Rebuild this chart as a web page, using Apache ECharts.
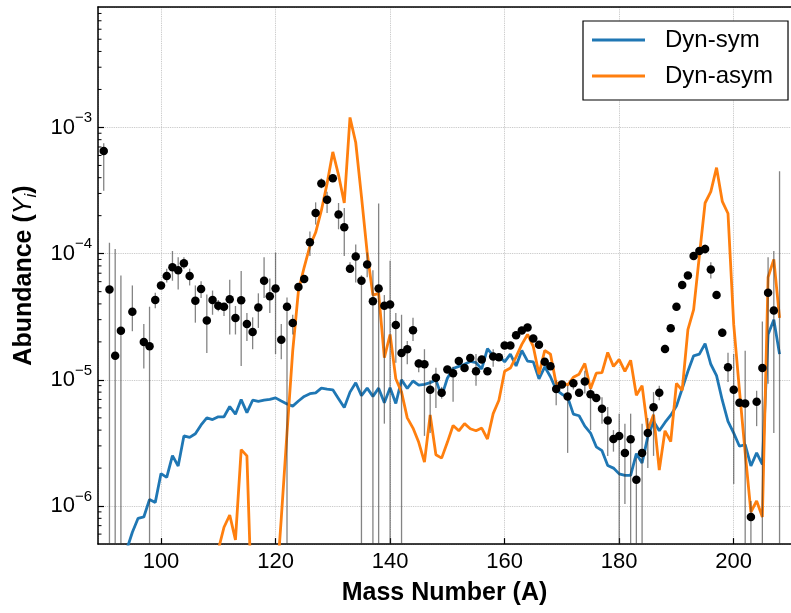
<!DOCTYPE html>
<html>
<head>
<meta charset="utf-8">
<script src="https://cdn.jsdelivr.net/npm/echarts@6/dist/echarts.min.js"></script>
<style>
  html, body { margin: 0; padding: 0; background: #fff; }
  #chart { width: 791px; height: 613px; }
</style>
</head>
<body>
<div id="chart"></div>
<script>
// Mass numbers A = 90 ... 208
const massNumber = [
  90, 91, 92, 93, 94, 95, 96, 97, 98, 99,
  100, 101, 102, 103, 104, 105, 106, 107, 108, 109,
  110, 111, 112, 113, 114, 115, 116, 117, 118, 119,
  120, 121, 122, 123, 124, 125, 126, 127, 128, 129,
  130, 131, 132, 133, 134, 135, 136, 137, 138, 139,
  140, 141, 142, 143, 144, 145, 146, 147, 148, 149,
  150, 151, 152, 153, 154, 155, 156, 157, 158, 159,
  160, 161, 162, 163, 164, 165, 166, 167, 168, 169,
  170, 171, 172, 173, 174, 175, 176, 177, 178, 179,
  180, 181, 182, 183, 184, 185, 186, 187, 188, 189,
  190, 191, 192, 193, 194, 195, 196, 197, 198, 199,
  200, 201, 202, 203, 204, 205, 206, 207, 208
];

// Symmetric dynamical ejecta abundances
const dynSym = [
  null, null, null, null, 4.5e-7, 6.2e-7, 8.0e-7, 8.2e-7, 1.13e-6, 1.07e-6,
  1.81e-6, 1.69e-6, 2.51e-6, 2.08e-6, 3.6e-6, 3.5e-6, 3.74e-6, 4.4e-6, 5.0e-6, 4.85e-6,
  5.1e-6, 5.1e-6, 6.15e-6, 5.35e-6, 6.98e-6, 5.5e-6, 6.9e-6, 6.77e-6, 6.9e-6, 7.0e-6,
  7.2e-6, 6.8e-6, 6.45e-6, 6.2e-6, 6.8e-6, 7.4e-6, 7.78e-6, 7.9e-6, 8.6e-6, 8.45e-6,
  8.35e-6, 7.1e-6, 6.04e-6, 8.0e-6, 9.5e-6, 7.5e-6, 8.6e-6, 7.4e-6, 8.6e-6, 6.6e-6,
  8.65e-6, 6.5e-6, 1.0e-5, 8.55e-6, 9.8e-6, 9.1e-6, 9.2e-6, 9.5e-6, 1.0e-5, 7.4e-6,
  1.03e-5, 1.23e-5, 1.28e-5, 1.33e-5, 1.4e-5, 1.37e-5, 1.22e-5, 1.77e-5, 1.55e-5, 1.55e-5,
  1.39e-5, 1.6e-5, 1.29e-5, 1.71e-5, 1.41e-5, 1.39e-5, 1.02e-5, 1.27e-5, 1.06e-5, 8.35e-6,
  7.7e-6, 7.3e-6, 5.35e-6, 5.2e-6, 4.3e-6, 3.79e-6, 2.95e-6, 2.75e-6, 2.1e-6, 2.0e-6,
  1.8e-6, 1.75e-6, 1.75e-6, 2.6e-6, 2.2e-6, 3.55e-6, 4.7e-6, 3.95e-6, 4.6e-6, 5.25e-6,
  6.2e-6, 8.5e-6, 1.17e-5, 1.55e-5, 1.6e-5, 1.94e-5, 1.33e-5, 1.08e-5, 6.9e-6, 4.7e-6,
  3.79e-6, 2.98e-6, 3.07e-6, 2.08e-6, 2.64e-6, 2.14e-6, 2.29e-5, 3.0e-5, 1.6e-5
];

// Asymmetric dynamical ejecta abundances
const dynAsym = [
  null, null, null, null, null, null, null, null, null, null,
  null, null, null, null, null, null, null, null, null, 1e-7,
  4.5e-7, 6.8e-7, 8.5e-7, 5.4e-7, 2.8e-6, 2.5e-6, 1e-7, 1e-7, 1e-7, 1e-7,
  1.8e-7, 8e-7, 3.8e-6, 1.7e-5, 5.1e-5, 7.8e-5, 1.15e-4, 1.47e-4, 2.2e-4, 3.6e-4,
  6.4e-4, 4.2e-4, 2.52e-4, 1.2e-3, 7.6e-4, 2.84e-4, 1.02e-4, 4.7e-5, 4.85e-5, 1.5e-5,
  2.29e-5, 1.02e-5, 8.0e-6, 5.0e-6, 4.15e-6, 3.2e-6, 2.23e-6, 5.28e-6, 2.55e-6, 2.4e-6,
  3.2e-6, 4.35e-6, 3.95e-6, 4.5e-6, 4.1e-6, 3.95e-6, 4.15e-6, 3.4e-6, 5.4e-6, 6.9e-6,
  1.17e-5, 1.24e-5, 1.52e-5, 1.91e-5, 2.29e-5, 1.84e-5, 1.11e-5, 1.71e-5, 1.6e-5, 9.3e-6,
  9.6e-6, 9.1e-6, 1.05e-5, 1.11e-5, 1.35e-5, 8.5e-6, 1.13e-5, 1.14e-5, 1.65e-5, 1.28e-5,
  1.45e-5, 1.17e-5, 1.43e-5, 7.55e-6, 9.0e-6, 4.0e-6, 5.3e-6, 1.93e-6, 3.95e-6, 3.25e-6,
  9.4e-6, 8.25e-6, 2.5e-5, 3.6e-5, 9.6e-5, 2.52e-4, 3.1e-4, 4.8e-4, 2.6e-4, 2.08e-4,
  2.74e-5, 8.25e-6, 2.64e-6, 8.98e-7, 1.1e-6, 8.2e-7, 6.5e-5, 9.0e-5, 3.1e-5
];

// Observed abundances with lower / upper uncertainty bounds
const observed = [
  6.5e-4, 5.2e-5, 1.55e-5, 2.45e-5, null, 3.47e-5, null, 2.0e-5, 1.85e-5, 4.3e-5,
  5.6e-5, 6.65e-5, 7.8e-5, 7.4e-5, 8.4e-5, 6.65e-5, 4.24e-5, 5.24e-5, 2.96e-5, 4.3e-5,
  3.87e-5, 3.8e-5, 4.36e-5, 3.09e-5, 4.27e-5, 2.77e-5, 2.4e-5, 3.74e-5, 6.1e-5, 4.6e-5,
  5.3e-5, 2.08e-5, 3.8e-5, 2.82e-5, 5.45e-5, 6.3e-5, 1.23e-4, 2.1e-4, 3.6e-4, 2.67e-4,
  3.96e-4, 2.04e-4, 1.62e-4, 7.6e-5, 9.5e-5, 6.1e-5, 8.2e-5, 4.2e-5, 5.3e-5, 3.87e-5,
  3.95e-5, 2.72e-5, 1.63e-5, 1.75e-5, 2.47e-5, 1.35e-5, 1.33e-5, 8.35e-6, 1.04e-5, 7.9e-6,
  1.21e-5, 1.13e-5, 1.41e-5, 1.24e-5, 1.49e-5, 1.17e-5, 1.45e-5, 1.17e-5, 1.53e-5, 1.51e-5,
  1.87e-5, 1.87e-5, 2.26e-5, 2.46e-5, 2.6e-5, 2.13e-5, 1.9e-5, 1.39e-5, 1.28e-5, 8.45e-6,
  9.2e-6, 7.4e-6, 9.4e-6, 7.9e-6, 9.7e-6, 7.7e-6, 7.2e-6, 5.9e-6, 4.77e-6, 3.4e-6,
  3.6e-6, 2.64e-6, 3.38e-6, 1.62e-6, 2.64e-6, 3.8e-6, 6.08e-6, 7.9e-6, 1.76e-5, 2.56e-5,
  3.79e-5, 5.65e-5, 6.7e-5, 9.6e-5, 1.05e-4, 1.09e-4, 7.5e-5, 4.7e-5, 2.36e-5, 1.26e-5,
  8.35e-6, 6.6e-6, 6.5e-6, 8.2e-7, 6.7e-6, 1.24e-5, 4.9e-5, 3.55e-5, null
];

const observedLow = [
  3.15e-4, 1e-7, 1e-7, 1e-7, null, 2.43e-5, null, 1.23e-5, 1e-7, 3.7e-5,
  5.3e-5, 5.9e-5, 6.1e-5, 5.2e-5, 7.6e-5, 5.6e-5, 2.84e-5, 4.45e-5, 1.63e-5, 3.28e-5,
  3.5e-5, 3.2e-5, 2.29e-5, 2.29e-5, 1.29e-5, 2.03e-5, 1.75e-5, 2.58e-5, 4.45e-5, 3.38e-5,
  1.6e-5, 1.46e-5, 1e-7, 2.29e-5, 5.1e-5, 5.9e-5, 9.6e-5, 1.7e-4, 3.3e-4, 2.1e-4,
  3.7e-4, 1.56e-4, 9.6e-5, 7.15e-5, 5.9e-5, 1e-7, 6.5e-5, 1e-7, 1e-7, 4.5e-6,
  1e-7, 1.37e-5, 1e-7, 1.33e-5, 2.03e-5, 1.15e-5, 3.6e-6, 3.8e-6, 6.0e-6, 7.1e-6,
  1.15e-5, 6.7e-6, 1.35e-5, 1.18e-5, 1.42e-5, 9.0e-6, 1.38e-5, 1.11e-5, 1.27e-5, 1.44e-5,
  1.78e-5, 1.78e-5, 2.15e-5, 2.34e-5, 2.47e-5, 2.02e-5, 1.8e-5, 1.32e-5, 1.22e-5, 6.3e-6,
  8.7e-6, 2.64e-6, 8.4e-6, 7.5e-6, 7.8e-6, 4.0e-6, 6.8e-6, 4.5e-6, 2.5e-6, 2.7e-6,
  1e-7, 1.04e-6, 1e-7, 1e-7, 1e-7, 2.0e-6, 2.5e-6, 6.9e-6, 1.65e-5, 2.45e-5,
  3.65e-5, 5.45e-5, 6.45e-5, 9.3e-5, 1.0e-4, 1.0e-4, 6.35e-5, 4.5e-5, 2.2e-5, 9.6e-6,
  1.5e-6, 6.2e-6, 1e-7, 1e-7, 4.3e-6, 1e-7, 9.3e-6, 3.8e-6, 1e-7
];

const observedHigh = [
  7.5e-4, 1.22e-4, 1.09e-4, 6.7e-5, null, 5.6e-5, null, 2.77e-5, 3.8e-5, 4.9e-5,
  5.9e-5, 7.6e-5, 1.05e-4, 9.35e-5, 9.35e-5, 7.6e-5, 5.6e-5, 6.05e-5, 4.75e-5, 5.1e-5,
  4.3e-5, 4.05e-5, 6.2e-5, 3.85e-5, 7.3e-5, 3.38e-5, 3.13e-5, 4.85e-5, 9.35e-5, 6.35e-5,
  1.02e-4, 2.77e-5, 4.5e-5, 3.28e-5, 5.8e-5, 6.7e-5, 1.5e-4, 2.55e-4, 3.95e-4, 3.1e-4,
  4.2e-4, 2.52e-4, 2.3e-4, 8.55e-5, 1.18e-4, 6.73e-5, 1.02e-4, 7.4e-5, 2.5e-4, 4.7e-5,
  8.8e-5, 3.38e-5, 3.28e-5, 2.03e-5, 3.1e-5, 1.46e-5, 1.75e-5, 1.0e-5, 1.25e-5, 8.8e-6,
  1.28e-5, 1.27e-5, 1.48e-5, 1.3e-5, 1.56e-5, 1.6e-5, 1.52e-5, 1.23e-5, 1.75e-5, 1.58e-5,
  1.96e-5, 1.96e-5, 2.37e-5, 2.58e-5, 2.73e-5, 2.24e-5, 2.0e-5, 1.46e-5, 1.34e-5, 9.9e-6,
  9.7e-6, 9.0e-6, 1.0e-5, 8.3e-6, 1.18e-5, 8.5e-6, 7.6e-6, 7.3e-6, 6.1e-6, 4.0e-6,
  5.4e-6, 4.5e-6, 5.4e-6, 2.4e-6, 4.5e-6, 5.0e-6, 8.0e-6, 9.0e-6, 1.9e-5, 2.67e-5,
  3.95e-5, 5.85e-5, 6.95e-5, 9.9e-5, 1.1e-4, 1.18e-4, 8.55e-5, 4.9e-5, 2.55e-5, 1.64e-5,
  1.6e-5, 7.0e-6, 1.7e-5, 1.1e-6, 8.2e-6, 2.9e-5, 9.35e-5, 1.05e-4, 4.5e-4
];

// Axis ranges and labels
const xRange = [89, 210];
const yRange = [5e-7, 9e-3];
const xTitle = 'Mass Number (A)';
const seriesNames = ['Dyn-sym', 'Dyn-asym'];

const FONT = '"Liberation Sans", Arial, Helvetica, sans-serif';

// Minor tick positions on the log axis: 2..9 x 10^n inside the visible range
const yMinorTicks = [];
for (let e = -7; e <= -2; e++) {
  for (let m = 2; m <= 9; m++) {
    const v = m * Math.pow(10, e);
    if (v > yRange[0] * 1.001 && v < yRange[1] * 0.999) yMinorTicks.push(v);
  }
}

const pairs = (ys) => massNumber.map((a, i) => [a, ys[i] == null ? '-' : ys[i]]);

const errData = [];
const pointData = [];
massNumber.forEach((a, i) => {
  if (observedLow[i] != null && observedHigh[i] != null) errData.push([a, observedLow[i], observedHigh[i]]);
  if (observed[i] != null) pointData.push([a, observed[i]]);
});

function clampY(y, cs) {
  return Math.max(cs.y, Math.min(cs.y + cs.height, y));
}

const chart = echarts.init(document.getElementById('chart'), null, { renderer: 'canvas' });

chart.setOption({
  animation: false,
  backgroundColor: '#fff',
  textStyle: { fontFamily: FONT },
  grid: { left: 98, right: -11, top: 7, bottom: 61 },
  legend: {
    data: seriesNames,
    orient: 'vertical',
    left: 583,
    top: 21,
    padding: [5, 15, 10, 9],
    itemGap: 8,
    itemWidth: 53,
    itemHeight: 3.2,
    icon: 'rect',
    backgroundColor: '#fff',
    borderColor: '#000',
    borderWidth: 1.2,
    borderRadius: 0,
    textStyle: { fontSize: 24, lineHeight: 28, color: '#000', fontFamily: FONT, padding: [0, 0, 0, 15] }
  },
  xAxis: [
    {
      type: 'value',
      min: xRange[0],
      max: xRange[1],
      position: 'bottom',
      name: xTitle,
      nameLocation: 'middle',
      nameGap: 29,
      nameTextStyle: { fontSize: 25, fontWeight: 'bold', color: '#000', lineHeight: 30, fontFamily: FONT },
      axisLine: { show: true, lineStyle: { color: '#000', width: 1.5 } },
      axisTick: { show: true, inside: true, length: 6, lineStyle: { color: '#000', width: 1.2 } },
      axisLabel: {
        fontSize: 22, color: '#000', margin: 7, fontFamily: FONT,
        showMinLabel: false, showMaxLabel: false,
        formatter: (v) => (v % 20 === 0 ? String(v) : '')
      },
      splitLine: { show: true, lineStyle: { type: 'dotted', color: '#bdbdbd', width: 0.9 } }
    },
    {
      type: 'value',
      min: xRange[0],
      max: xRange[1],
      position: 'top',
      axisLine: { show: true, lineStyle: { color: '#000', width: 1.5 } },
      axisTick: { show: false },
      axisLabel: { show: false },
      splitLine: { show: false }
    }
  ],
  yAxis: {
    type: 'log',
    logBase: 10,
    min: yRange[0],
    max: yRange[1],
    name: '{a|Abundance (}{y|Y}{i|i}{a|)}',
    nameLocation: 'middle',
    nameRotate: 90,
    nameGap: 58,
    nameTextStyle: {
      rich: {
        a: { fontSize: 25, fontWeight: 'bold', lineHeight: 30, color: '#000', fontFamily: FONT },
        y: { fontSize: 25, fontStyle: 'italic', lineHeight: 30, color: '#000', fontFamily: FONT },
        i: { fontSize: 17, fontStyle: 'italic', lineHeight: 12, verticalAlign: 'bottom', color: '#000', fontFamily: FONT }
      }
    },
    axisLine: { show: true, lineStyle: { color: '#000', width: 1.5 } },
    axisTick: { show: true, inside: true, length: 6, lineStyle: { color: '#000', width: 1.2 } },
    axisLabel: {
      margin: 6,
      showMinLabel: false, showMaxLabel: false,
      formatter: function (v) {
        const e = Math.log10(v);
        const r = Math.round(e);
        if (Math.abs(e - r) > 1e-6) return '';
        return '{b|10}{s|' + (r < 0 ? '\u2212' + (-r) : String(r)) + '}';
      },
      rich: {
        b: { fontSize: 22, lineHeight: 34, color: '#000', fontFamily: FONT },
        s: { fontSize: 15, lineHeight: 14, verticalAlign: 'top', color: '#000', fontFamily: FONT }
      }
    },
    splitLine: { show: true, lineStyle: { type: 'dotted', color: '#bdbdbd', width: 0.9 } }
  },
  series: [
    {
      name: seriesNames[0],
      type: 'line',
      data: pairs(dynSym),
      symbol: 'none',
      connectNulls: false,
      clip: true,
      color: '#1f77b4',
      lineStyle: { color: '#1f77b4', width: 2.8 },
      z: 3
    },
    {
      name: seriesNames[1],
      type: 'line',
      data: pairs(dynAsym),
      symbol: 'none',
      connectNulls: false,
      clip: true,
      color: '#ff7f0e',
      lineStyle: { color: '#ff7f0e', width: 2.8 },
      z: 3
    },
    {
      name: 'uncertainty',
      type: 'custom',
      silent: true,
      data: errData,
      encode: { x: 0, y: [1, 2] },
      renderItem: function (params, api) {
        const cs = params.coordSys;
        const top = api.coord([api.value(0), api.value(2)]);
        const bot = api.coord([api.value(0), api.value(1)]);
        return {
          type: 'line',
          shape: { x1: top[0], y1: clampY(top[1], cs), x2: bot[0], y2: clampY(bot[1], cs) },
          style: { stroke: 'rgba(50,50,50,0.6)', lineWidth: 1.3 }
        };
      },
      z: 4
    },
    {
      name: 'observed',
      type: 'scatter',
      data: pointData,
      symbol: 'circle',
      symbolSize: 8.5,
      itemStyle: { color: '#000', opacity: 1 },
      silent: true,
      z: 5
    },
    {
      name: 'minor ticks',
      type: 'custom',
      silent: true,
      data: yMinorTicks.map((v) => [xRange[0], v]),
      encode: { x: 0, y: 1 },
      renderItem: function (params, api) {
        const p = api.coord([api.value(0), api.value(1)]);
        return {
          type: 'line',
          shape: { x1: p[0], y1: p[1], x2: p[0] + 3.5, y2: p[1] },
          style: { stroke: '#000', lineWidth: 1 }
        };
      },
      z: 6
    }
  ]
});
</script>
</body>
</html>
